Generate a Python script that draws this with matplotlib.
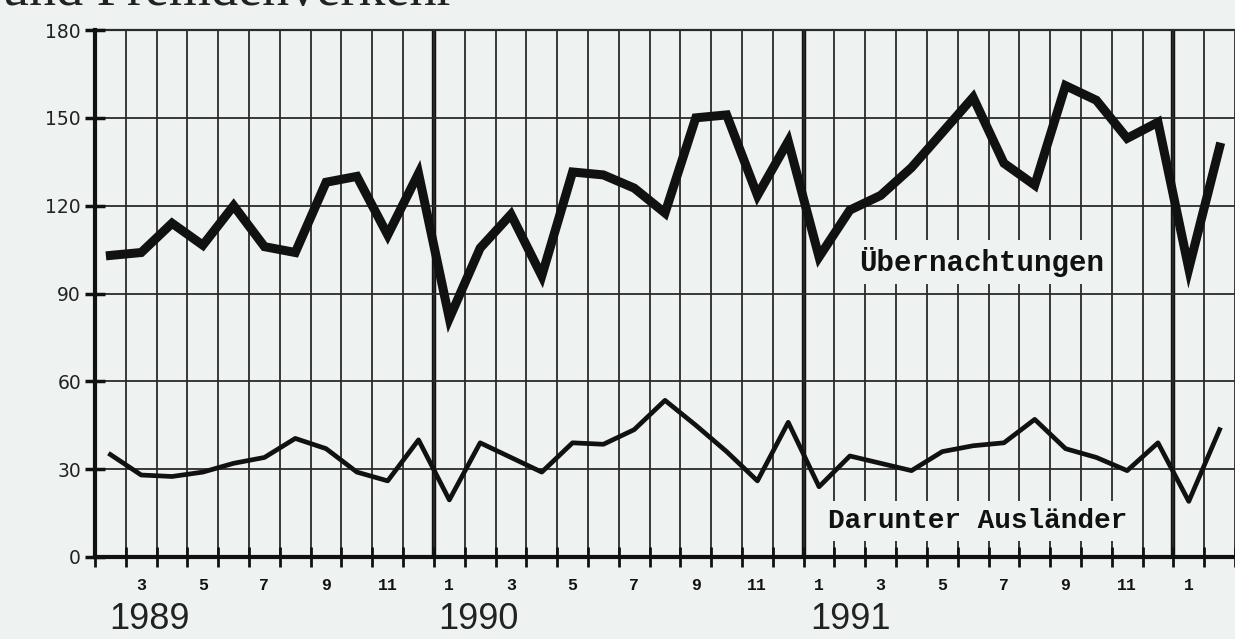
import matplotlib
matplotlib.use("Agg")
import matplotlib.pyplot as plt
import numpy as np

# months counted from Jan 1989 = 1; the series run Feb 1989 .. Feb 1992
months = np.arange(2, 39)
uebernachtungen = [103, 104, 114, 106.5, 120, 106, 104, 128, 130, 110, 131,
                   81.5, 105.5, 117, 96, 131.5, 130.5, 126, 117.5, 150, 151, 123.5, 142,
                   102.5, 118.5, 123.5, 133, 145, 157, 134.5, 127, 161, 156, 143, 148.5,
                   98.5, 140]
auslaender = [35, 28, 27.5, 29, 32, 34, 40.5, 37, 29, 26, 40,
              19.5, 39, 34, 29, 39, 38.5, 43.5, 53.5, 45, 36, 26, 46,
              24, 34.5, 32, 29.5, 36, 38, 39, 47, 37, 34, 29.5, 39,
              19, 43.5]

month_label_pos = np.arange(3, 38, 2)
month_labels = ["3", "5", "7", "9", "11",
                "1", "3", "5", "7", "9", "11",
                "1", "3", "5", "7", "9", "11",
                "1"]
years = ["1989", "1990", "1991"]
year_label_x = [1.95, 12.65, 24.7]
year_lines = [12.5, 24.5, 36.5]
y_ticks = [0, 30, 60, 90, 120, 150, 180]

bg = "#eef3f1"
ink = "#111111"

fig = plt.figure(figsize=(12.35, 6.39), dpi=100)
fig.patch.set_facecolor(bg)
ax = fig.add_axes([95 / 1235, 82 / 639, 1140 / 1235, 527 / 639])
ax.set_facecolor(bg)
ax.set_xlim(1.5, 38.4)
ax.set_ylim(0, 180)

# grid: month boundaries and 30-steps
boundaries = np.arange(1.5, 39, 1.0)
ax.set_xticks(boundaries)
ax.set_xticklabels([])
ax.set_yticks(y_ticks)
ax.set_yticklabels([str(v) for v in y_ticks], family="DejaVu Sans", fontsize=13.5)
ax.grid(True, color="#2a2a2a", linewidth=1.3, zorder=0)
for xl in year_lines:
    ax.axvline(xl, color=ink, linewidth=3.2, zorder=1)
ax.axhline(180, color="#2a2a2a", linewidth=1.6, clip_on=False, zorder=1)

ax.tick_params(axis="x", which="major", direction="inout", length=14, width=2, color=ink)
ax.tick_params(axis="y", which="major", direction="inout", length=14, width=2.5,
               color=ink, pad=3, labelcolor="#222222")

ax.set_xticks(month_label_pos, minor=True)
ax.set_xticklabels(month_labels, minor=True, family="Liberation Mono",
                   fontweight="bold", fontsize=12)
ax.tick_params(axis="x", which="minor", length=0, pad=15, labelcolor=ink)

for s in ["top", "right"]:
    ax.spines[s].set_visible(False)
for s in ["left", "bottom"]:
    ax.spines[s].set_linewidth(3)
    ax.spines[s].set_color(ink)

ax.plot(months, uebernachtungen, color=ink, linewidth=6.5, solid_joinstyle="miter",
        zorder=4)
ax.plot(months, auslaender, color=ink, linewidth=3.4, zorder=4)

ax.text(30.27, 100.8, "Übernachtungen", ha="center", va="center",
        family="Liberation Mono", fontweight="bold", fontsize=21, color=ink, zorder=3,
        bbox=dict(boxstyle="square,pad=0.25", facecolor=bg, edgecolor="none"))
ax.text(30.14, 12.3, "Darunter Ausländer", ha="center", va="center",
        family="Liberation Mono", fontweight="bold", fontsize=20, color=ink, zorder=3,
        bbox=dict(boxstyle="square,pad=0.25", facecolor=bg, edgecolor="none"))

trans = ax.get_xaxis_transform()
for lbl, xp in zip(years, year_label_x):
    ax.text(xp, -0.136, lbl, transform=trans, ha="left", va="baseline",
            family="Liberation Sans", fontsize=26, color="#222222")

# title, cut off at the top edge in the scan
fig.text(455 / 1235, 1 - 5 / 639, "und Fremdenverkehr", ha="right", va="baseline",
         family="Liberation Serif", fontsize=39, color="#222222")

fig.savefig("out.png", dpi=100, facecolor=bg)
